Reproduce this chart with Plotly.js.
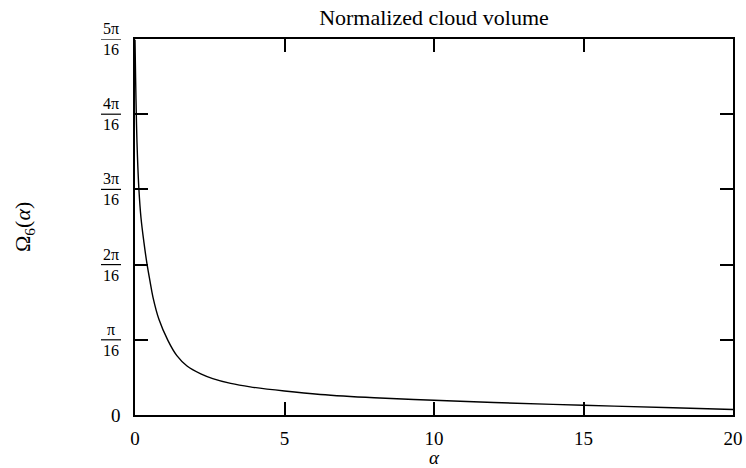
<!DOCTYPE html>
<html>
<head>
<meta charset="utf-8">
<script src="https://cdn.plot.ly/plotly-3.0.1.min.js"></script>
<style>html,body{margin:0;padding:0;background:#fff;}</style>
</head>
<body>
<div id="chart" style="width:746px;height:468px;"></div>
<script>
// Curve samples (alpha, Omega_6(alpha))
const alpha = [0.0, 0.02, 0.05, 0.08, 0.13, 0.2, 0.3, 0.4, 0.5, 0.6, 0.8, 1.1, 1.4, 1.74, 2.2, 2.6, 3.2, 3.85, 5, 6.2, 8, 10, 12, 15, 18, 20];
const omega = [0.98, 0.88, 0.76, 0.68, 0.59, 0.515, 0.45, 0.395, 0.35, 0.308, 0.25, 0.195, 0.155, 0.128, 0.1075, 0.0952, 0.0826, 0.0735, 0.0625, 0.0535, 0.045, 0.0385, 0.0325, 0.0255, 0.019, 0.0145];

const xTickVals = [0, 5, 10, 15, 20];
const xTickText = ['0', '5', '10', '15', '20'];
const PI = Math.PI;
const yTickVals = [0, PI/16, 2*PI/16, 3*PI/16, 4*PI/16, 5*PI/16];
const yTickNum = ['0', 'π', '2π', '3π', '4π', '5π'];
const yTickDen = ['', '16', '16', '16', '16', '16'];

const serif = 'Liberation Serif, DejaVu Serif, serif';
const W = 746, H = 468, L = 135, R = 13, T = 39, B = 53;
const PW = W - L - R;
const px = p => (p - L) / PW;   // pixel x -> paper x

const trace = {
  x: alpha, y: omega, type: 'scatter', mode: 'lines',
  line: {color: '#000', width: 1.4, shape: 'spline', smoothing: 1},
  hoverinfo: 'none', showlegend: false
};

const annotations = [];
const shapes = [];
yTickVals.forEach((v, i) => {
  if (yTickDen[i] === '') {
    annotations.push({text: yTickNum[i], xref: 'paper', yref: 'y', x: px(123), y: v,
      xanchor: 'right', yanchor: 'middle', showarrow: false,
      font: {family: serif, size: 19, color: '#000'}});
  } else {
    annotations.push({text: yTickNum[i], xref: 'paper', yref: 'y', x: px(111), y: v,
      xanchor: 'center', yanchor: 'bottom', showarrow: false, yshift: 0,
      font: {family: serif, size: 16, color: '#000'}});
    annotations.push({text: yTickDen[i], xref: 'paper', yref: 'y', x: px(111), y: v,
      xanchor: 'center', yanchor: 'top', showarrow: false, yshift: 0,
      font: {family: serif, size: 16, color: '#000'}});
    shapes.push({type: 'line', xref: 'paper', yref: 'y', x0: px(101), x1: px(121), y0: v, y1: v,
      line: {color: '#000', width: 1.2}});
  }
});
annotations.push({
  text: 'Ω<sub>6</sub>(<i>α</i>)', textangle: -90,
  xref: 'paper', yref: 'paper', x: px(24), y: 0.5,
  xanchor: 'center', yanchor: 'middle', showarrow: false,
  font: {family: serif, size: 22, color: '#000'}
});

const layout = {
  width: W, height: H,
  margin: {l: L, r: R, t: T, b: B},
  paper_bgcolor: '#fff', plot_bgcolor: '#fff',
  font: {family: serif, color: '#000', size: 16},
  title: {text: 'Normalized cloud volume', font: {family: serif, size: 22, color: '#000'},
          x: 0.5, xref: 'paper', y: 1 - 17/H, yref: 'container', yanchor: 'middle'},
  xaxis: {
    range: [0, 20], tickvals: xTickVals, ticktext: xTickText,
    ticks: 'inside', ticklen: 13, tickwidth: 2, tickcolor: '#000',
    showline: true, linewidth: 2, linecolor: '#000', mirror: 'ticks',
    showgrid: false, zeroline: false, ticklabelstandoff: 5,
    tickfont: {family: serif, size: 19, color: '#000'},
    title: {text: '<i>α</i>', font: {family: serif, size: 19, color: '#000'}, standoff: 0}
  },
  yaxis: {
    range: [0, 5*PI/16], tickvals: yTickVals,
    ticks: 'inside', ticklen: 13, tickwidth: 2, tickcolor: '#000',
    showline: true, linewidth: 2, linecolor: '#000', mirror: 'ticks',
    showgrid: false, zeroline: false, showticklabels: false
  },
  annotations: annotations,
  shapes: shapes
};

Plotly.newPlot('chart', [trace], layout, {staticPlot: true, displayModeBar: false});
</script>
</body>
</html>
